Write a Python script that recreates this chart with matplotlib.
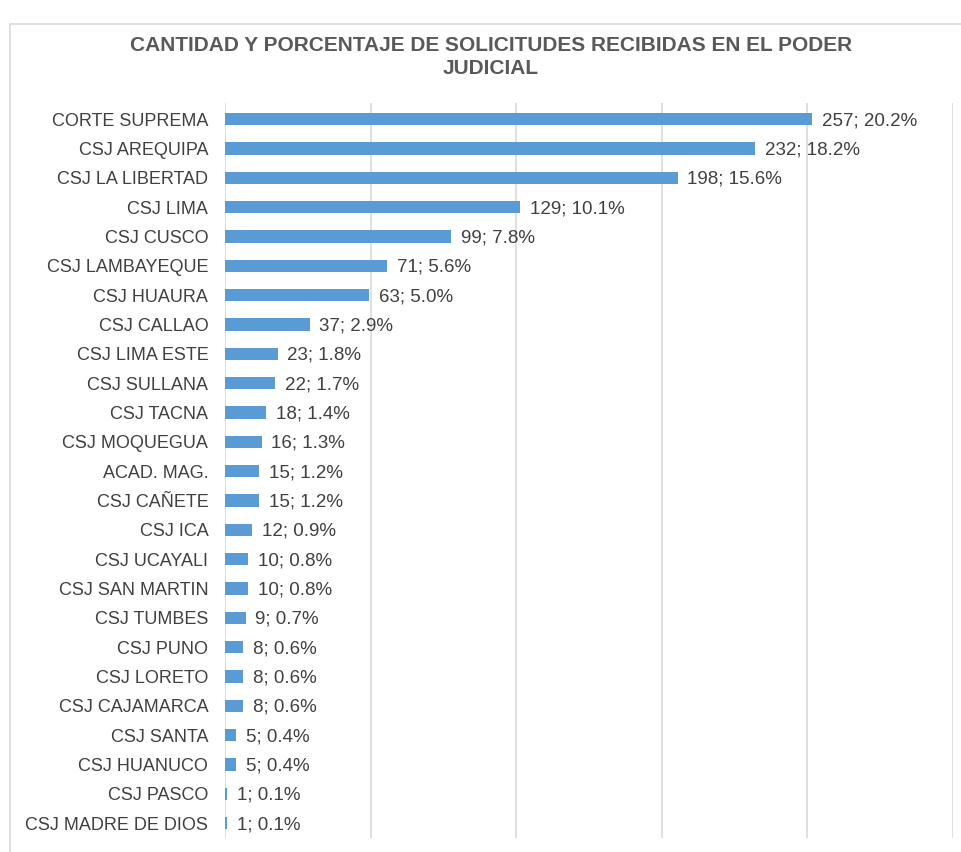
import matplotlib.pyplot as plt
from matplotlib.patches import Rectangle

plt.rcParams['font.family'] = ['Liberation Sans', 'DejaVu Sans']

categorias = ['CORTE SUPREMA', 'CSJ AREQUIPA', 'CSJ LA LIBERTAD', 'CSJ LIMA', 'CSJ CUSCO',
              'CSJ LAMBAYEQUE', 'CSJ HUAURA', 'CSJ CALLAO', 'CSJ LIMA ESTE', 'CSJ SULLANA',
              'CSJ TACNA', 'CSJ MOQUEGUA', 'ACAD. MAG.', 'CSJ CAÑETE', 'CSJ ICA',
              'CSJ UCAYALI', 'CSJ SAN MARTIN', 'CSJ TUMBES', 'CSJ PUNO', 'CSJ LORETO',
              'CSJ CAJAMARCA', 'CSJ SANTA', 'CSJ HUANUCO', 'CSJ PASCO', 'CSJ MADRE DE DIOS']
cantidad = [257, 232, 198, 129, 99, 71, 63, 37, 23, 22, 18, 16, 15, 15, 12,
            10, 10, 9, 8, 8, 8, 5, 5, 1, 1]
porcentaje = [20.2, 18.2, 15.6, 10.1, 7.8, 5.6, 5.0, 2.9, 1.8, 1.7, 1.4, 1.3, 1.2, 1.2, 0.9,
              0.8, 0.8, 0.7, 0.6, 0.6, 0.6, 0.4, 0.4, 0.1, 0.1]

fig = plt.figure(figsize=(9.61, 8.52), dpi=100)
fig.patches.append(Rectangle((10 / 961, -0.1), 1.2, 1 - 24 / 852 + 0.1, transform=fig.transFigure,
                             fill=False, edgecolor='#D9D9D9', linewidth=1.2))

ax = fig.add_axes([225 / 961, 14 / 852, 728 / 961, 735 / 852])
pos = range(len(categorias))
ax.barh(pos, cantidad, height=0.42, color='#5B9BD5', zorder=3)

for i, (c, p) in enumerate(zip(cantidad, porcentaje)):
    ax.annotate(f'{c}; {p:.1f}%', xy=(c, i), xytext=(7, -1), textcoords='offset points',
                va='center', ha='left', fontsize=13.5, color='#404040')

ax.set_yticks(list(pos))
ax.set_yticklabels(categorias, fontsize=13, color='#404040')
ax.set_ylim(len(categorias) - 0.5, -0.55)
ax.set_xlim(0, 318.5)
ax.set_xticks([0, 63.7, 127.4, 191.1, 254.8, 318.5])
ax.set_xticklabels([])
ax.tick_params(axis='both', length=0, pad=12)
ax.grid(axis='x', color='#D9D9D9', linewidth=1.2, zorder=0)
for s in ['top', 'right', 'bottom', 'left']:
    ax.spines[s].set_visible(False)

fig.text(491 / 961, 1 - 57 / 852, 'CANTIDAD Y PORCENTAJE DE SOLICITUDES RECIBIDAS EN EL PODER\nJUDICIAL',
         ha='center', va='center', fontsize=15, fontweight='bold', color='#595959', linespacing=1.3)

plt.savefig('out.png', dpi=100)
